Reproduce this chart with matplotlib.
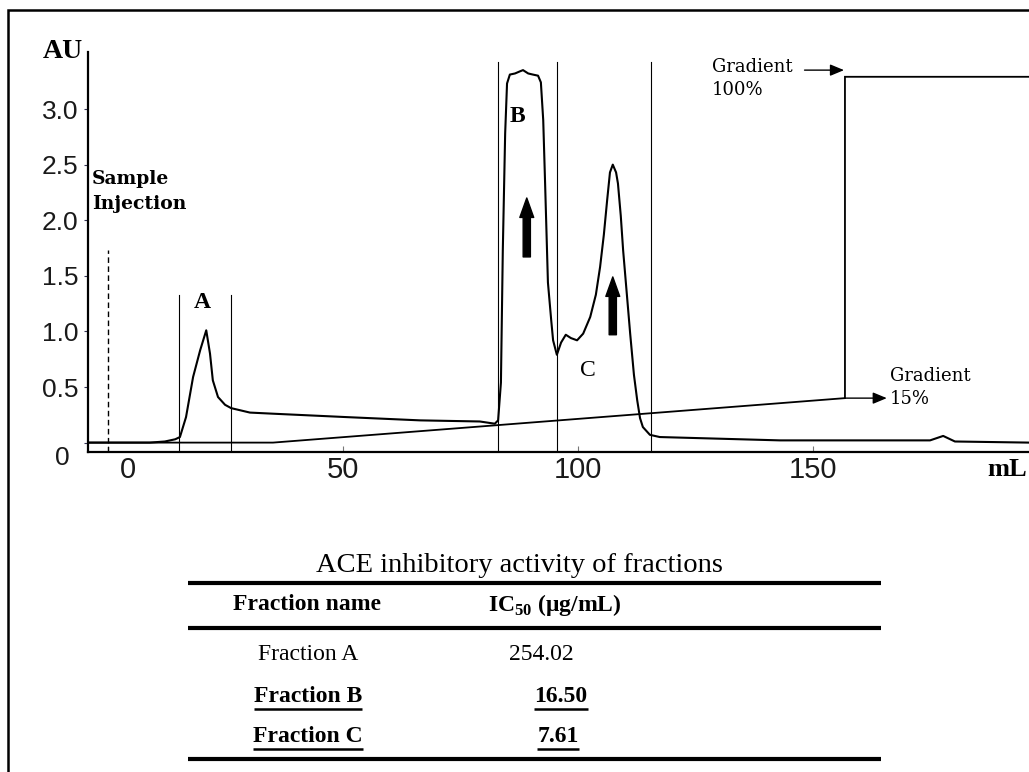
import matplotlib
matplotlib.use("Agg")
import matplotlib.pyplot as plt
from matplotlib.transforms import offset_copy

plt.rcParams['mathtext.fontset'] = 'custom'
plt.rcParams['mathtext.rm'] = 'Liberation Serif'
plt.rcParams['mathtext.bf'] = 'Liberation Serif:bold'

SERIF = 'Liberation Serif'
WIDE_SERIF = 'DejaVu Serif'
SANS = 'Liberation Sans'

# Elution trace: volume (mL) vs absorbance (AU)
volume_ml = [-4.3, 8.9, 12.1, 14.3, 15.3, 16.6, 18.1, 19.6, 20.9, 21.7, 22.3, 23.4,
             24.9, 26.2, 30.2, 35.1, 50.4, 66.4, 79.1, 82.3, 83.0, 83.6, 84.0, 84.5,
             84.9, 85.5, 86.6, 87.7, 88.3, 89.4, 90.4, 91.5, 92.1, 92.6, 93.0, 93.6,
             94.3, 94.7, 95.5, 96.4, 97.4, 98.5, 99.8, 101.1, 102.6, 103.8, 104.7,
             105.5, 106.2, 106.8, 107.4, 108.1, 108.5, 109.1, 109.6, 110.4, 111.1,
             111.9, 112.6, 113.2, 113.8, 115.3, 117.4, 143.0, 174.9, 177.7, 180.2, 196.0]
absorbance = [0.0, 0.0, 0.01, 0.03, 0.05, 0.23, 0.59, 0.83, 1.01, 0.80, 0.56, 0.41,
              0.34, 0.31, 0.27, 0.26, 0.23, 0.20, 0.19, 0.17, 0.20, 0.54, 1.73, 2.78,
              3.23, 3.31, 3.32, 3.34, 3.35, 3.32, 3.31, 3.30, 3.24, 2.90, 2.33, 1.44,
              1.10, 0.92, 0.79, 0.90, 0.97, 0.94, 0.92, 0.98, 1.13, 1.33, 1.58,
              1.87, 2.18, 2.43, 2.50, 2.43, 2.33, 2.04, 1.73, 1.33, 0.98,
              0.61, 0.38, 0.22, 0.14, 0.07, 0.05, 0.02, 0.02, 0.06, 0.01, 0.0]

# Step gradient profile drawn on the same scale
gradient_ml = [-4.3, 35.1, 156.8, 156.8, 196.0]
gradient_au = [0.0, 0.0, 0.40, 3.29, 3.29]

injection_ml = 0.0
cuts_a = [15.1, 26.2]
cuts_bc = [83.0, 95.5, 115.5]

x_ticks = [0, 50, 100, 150]
x_tick_labels = ["0", "50", "100", "150"]
y_ticks = [0, 0.5, 1.0, 1.5, 2.0, 2.5, 3.0]
y_tick_labels = ["0", "0.5", "1.0", "1.5", "2.0", "2.5", "3.0"]

# IC50 table
table_title = "ACE inhibitory activity of fractions"
fraction_names = ["Fraction A", "Fraction B", "Fraction C"]
ic50_values = ["254.02", "16.50", "7.61"]
highlighted = [False, True, True]

W, H = 1029, 772
fig = plt.figure(figsize=(W / 100, H / 100), dpi=100)
fig.patch.set_facecolor('white')

# page overlay in pixel units for the frame, axis titles and table
page = fig.add_axes([0, 0, 1, 1])
page.set_xlim(0, W)
page.set_ylim(H, 0)
page.axis('off')
page.patch.set_visible(False)

ax = fig.add_axes([88 / W, (H - 452) / H, (W - 88) / W, 400 / H])
ax.set_xlim(-4.26, 195.96)
ax.set_ylim(-0.0845, 3.513)
ax.patch.set_visible(False)
for side in ['top', 'right']:
    ax.spines[side].set_visible(False)
for side in ['left', 'bottom']:
    ax.spines[side].set_linewidth(1.6)
    ax.spines[side].set_color('black')

ax.plot(gradient_ml, gradient_au, color='black', lw=1.3, solid_joinstyle='miter')
ax.plot(volume_ml, absorbance, color='black', lw=1.5)

ymin = ax.get_ylim()[0]
for x in cuts_a:
    ax.plot([x, x], [ymin, 1.33], color='black', lw=0.8)
for x in cuts_bc:
    ax.plot([x, x], [ymin, 3.42], color='black', lw=0.8)
ax.plot([injection_ml, injection_ml], [ymin, 1.73], color='black', lw=1.0,
        linestyle=(0, (4, 2.5)))

# fraction labels and arrows
ax.text(20.0, 1.26, "A", fontfamily=SERIF, fontweight='bold', fontsize=17,
        ha='center', va='center')
ax.text(87.2, 2.93, "B", fontfamily=SERIF, fontweight='bold', fontsize=17,
        ha='center', va='center')
ax.text(102.1, 0.65, "C", fontfamily=SERIF, fontsize=17, ha='center', va='center')

thick = dict(arrowstyle='simple,head_width=0.5,head_length=0.7,tail_width=0.26',
             color='black', shrinkA=0, shrinkB=0, mutation_scale=20)
ax.annotate('', xy=(89.1, 2.20), xytext=(89.1, 1.67), arrowprops=thick)
ax.annotate('', xy=(107.4, 1.49), xytext=(107.4, 0.97), arrowprops=thick)

thin = dict(arrowstyle='-|>,head_width=0.25,head_length=0.6', color='black',
            lw=1.0, shrinkA=0, shrinkB=0, mutation_scale=14)
ax.annotate('', xy=(156.6, 3.35), xytext=(148.2, 3.35), arrowprops=thin)
ax.annotate('', xy=(165.7, 0.40), xytext=(156.8, 0.40), arrowprops=thin)

ax.text(128.5, 3.46, "Gradient\n100%", fontfamily=WIDE_SERIF, fontsize=13,
        ha='left', va='top', linespacing=1.35)
ax.text(166.4, 0.68, "Gradient\n15%", fontfamily=WIDE_SERIF, fontsize=13,
        ha='left', va='top', linespacing=1.35)
ax.text(-3.4, 2.45, "Sample\nInjection", fontfamily=WIDE_SERIF, fontweight='bold',
        fontsize=13.5, ha='left', va='top', linespacing=1.5)

# axes ticks
ax.set_xticks(x_ticks, x_tick_labels)
ax.set_yticks(y_ticks, y_tick_labels)
ax.tick_params(axis='x', direction='in', length=4, width=0.8, color='#777777',
               pad=3, labelsize=21, labelcolor='#1a1a1a')
ax.tick_params(axis='y', direction='out', length=3, width=0.8, color='#333355',
               pad=4, labelsize=19, labelcolor='#1a1a1a')
for lab in ax.get_xticklabels() + ax.get_yticklabels():
    lab.set_fontfamily(SANS)
xl0 = ax.get_xticklabels()[0]
xl0.set_transform(offset_copy(xl0.get_transform(), fig=fig, x=20, y=0, units='dots'))
yl0 = ax.get_yticklabels()[0]
yl0.set_transform(offset_copy(yl0.get_transform(), fig=fig, x=-9, y=-13, units='dots'))

page.text(83, 52, "AU", fontfamily=SERIF, fontweight='bold', fontsize=20,
          ha='right', va='center')
page.text(1027, 470, "mL", fontfamily=SERIF, fontweight='bold', fontsize=19,
          ha='right', va='center')

# outer frame (left and top edges)
page.plot([8, 8, W], [H, 10, 10], color='black', lw=1.8, solid_joinstyle='miter')

# table
page.text(519, 565, table_title, fontfamily=SERIF, fontsize=20.5, ha='center',
          va='center')
for y in [583, 628, 759]:
    page.plot([188, 881], [y, y], color='black', lw=3.0, solid_capstyle='butt')
page.text(307, 605, "Fraction name", fontfamily=SERIF, fontweight='bold',
          fontsize=17, ha='center', va='center')
page.text(555, 605, r'IC$_{\mathbf{50}}$ (μg/mL)', fontfamily=SERIF,
          fontweight='bold', fontsize=17, ha='center', va='center')

row_y = [655, 697, 737]
value_x = [541, 561, 558]
underlined = []
for name, val, hi, y, vx in zip(fraction_names, ic50_values, highlighted, row_y, value_x):
    weight = 'bold' if hi else 'normal'
    t1 = page.text(308, y, name, fontfamily=SERIF, fontweight=weight,
                   fontsize=17, ha='center', va='center')
    t2 = page.text(vx, y, val, fontfamily=SERIF, fontweight=weight,
                   fontsize=17, ha='center', va='center')
    if hi:
        underlined += [t1, t2]

fig.canvas.draw()
renderer = fig.canvas.get_renderer()
for t in underlined:
    bb = t.get_window_extent(renderer)
    y = H - bb.y0 + 1
    page.plot([bb.x0, bb.x1], [y, y], color='black', lw=1.8, solid_capstyle='butt')

fig.savefig('out.png', dpi=100, facecolor='white')
